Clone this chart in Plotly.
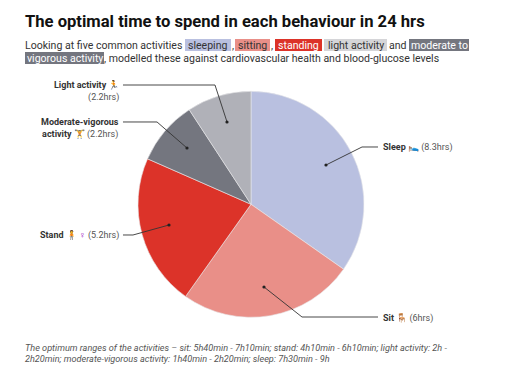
import plotly.graph_objects as go

W, H = 508, 365
categories = ["Sleep", "Sit", "Stand", "Moderate-vigorous activity", "Light activity"]
hours = [8.3, 6, 5.2, 2.2, 2.2]
colors = ["#b9c0e0", "#e98f88", "#dc3329", "#74767f", "#b0b1b8"]
cx, cy, r = 251, 204.3, 113

def X(x): return x / W
def Y(y): return 1 - y / H

fig = go.Figure(go.Pie(
    labels=categories, values=hours, sort=False, direction="clockwise", rotation=0,
    marker=dict(colors=colors, line=dict(color="#e8e8ea", width=0.6)),
    textinfo="none", hoverinfo="label+value", showlegend=False,
    domain=dict(x=[X(cx - r), X(cx + r)], y=[Y(cy + r), Y(cy - r)]),
))

shapes, annotations = [], []

def text(x, y, s, size=10.56, color="#333", anchor="left", **kw):
    annotations.append(dict(xref="paper", yref="paper", x=X(x), y=Y(y), text=s, showarrow=False,
                            xanchor=anchor, yanchor="middle", align=anchor,
                            font=dict(size=size, color=color, family="Roboto"), borderpad=0, borderwidth=0, **kw))

def rect(x0, y0, x1, y1, c):
    shapes.append(dict(type="rect", xref="paper", yref="paper", x0=X(x0), x1=X(x1), y0=Y(y0), y1=Y(y1),
                       fillcolor=c, line_width=0, layer="below"))

def leader(pts):
    path = "M " + " L ".join(f"{X(a):.4f},{Y(b):.4f}" for a, b in pts)
    shapes.append(dict(type="path", xref="paper", yref="paper", path=path, line=dict(color="#333", width=0.9), layer="above"))
    a, b = pts[-1]
    d = 1.6
    shapes.append(dict(type="circle", xref="paper", yref="paper", x0=X(a - d), x1=X(a + d), y0=Y(b + d), y1=Y(b - d),
                       fillcolor="#222", line_width=0, layer="above"))

text(25, 22, "<b>The optimal time to spend in each behaviour in 24 hrs</b>", size=16.6, color="#111")

rect(185, 39, 231, 51, "#b9c0e0")
rect(235, 39, 270, 51, "#e98f88")
rect(275, 39, 322, 51, "#dc3329")
rect(324, 39, 387, 51, "#d5d5d8")
rect(409, 39, 469, 51, "#74767f")
rect(25, 52, 104, 64, "#74767f")

text(25, 45, "Looking at five common activities")
text(208, 45, "sleeping", anchor="center")
text(231.5, 45, ",")
text(252.5, 45, "sitting", anchor="center")
text(271, 45, ",")
text(298.5, 45, "standing", color="#ffffff", anchor="center")
text(355.5, 45, "light activity", anchor="center")
text(389, 45, "and")
text(439, 45, "moderate to", color="#ffffff", anchor="center")
text(64.5, 58, "vigorous activity", color="#ffffff", anchor="center")
text(104, 58, ", modelled these against cardiovascular health and blood-glucose levels")

leader([(123, 85), (215, 85), (227, 122)])
leader([(123, 122), (157, 122), (187, 148)])
leader([(123, 235), (133, 235), (169, 225)])
leader([(378, 147), (362, 147), (326, 165)])
leader([(378, 317), (302, 317), (264, 287)])

G = "#555"
S = 9
text(119, 91, f"<b>Light activity</b> 🏃<br><span style='color:{G}'>(2.2hrs)</span>", size=S, anchor="right")
text(119, 128, f"<b>Moderate-vigorous</b><br><b>activity</b> 🏋 <span style='color:{G}'>(2.2hrs)</span>", size=S, anchor="right")
text(119, 235, f"<b>Stand</b> 🧍 <span style='color:#a020c0'><b>♀</b></span> <span style='color:{G}'>(5.2hrs)</span>", size=S, anchor="right")
text(383, 147, f"<b>Sleep</b> 🛌 <span style='color:{G}'>(8.3hrs)</span>", size=S)
text(383, 318, f"<b>Sit</b> 🪑 <span style='color:{G}'>(6hrs)</span>", size=S)

text(25, 347.5, "<i>The optimum ranges of the activities – sit: 5h40min - 7h10min; stand: 4h10min - 6h10min; light activity: 2h -</i>", size=9.13, color="#555")
text(25, 358.5, "<i>2h20min; moderate-vigorous activity: 1h40min - 2h20min; sleep: 7h30min - 9h</i>", size=9.13, color="#555")

fig.update_layout(width=W, height=H, margin=dict(l=0, r=0, t=0, b=0), paper_bgcolor="white",
                  plot_bgcolor="white", shapes=shapes, annotations=annotations, font=dict(family="Roboto"))
fig.write_html("out.html", config={"displayModeBar": False},
               post_script="document.body.style.margin='0';document.body.style.overflow='hidden';")
